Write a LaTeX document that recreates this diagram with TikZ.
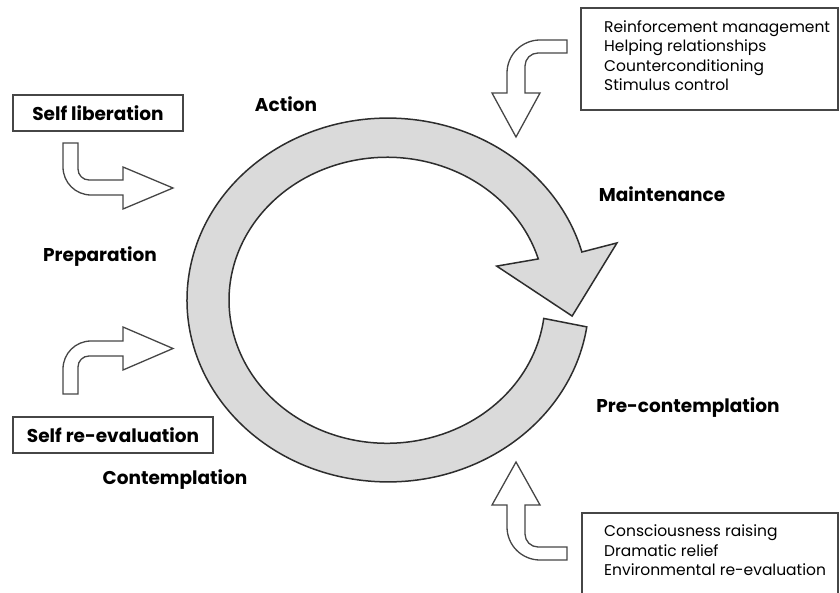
\documentclass[tikz,border=0pt]{standalone}
\usepackage{fontspec}
\setmainfont{Poppins}
\begin{document}
\begin{tikzpicture}[x=1pt,y=1pt,
  stagelabel/.style={font=\bfseries\fontsize{18.5}{22}\selectfont, text=black, inner sep=0pt},
  procbox/.style={draw=boxgray, line width=1.3pt, font=\bfseries\fontsize{18.5}{22}\selectfont, inner sep=0pt, minimum height=36pt},
  listtext/.style={font=\fontsize{15.5}{19.5}\selectfont, align=left, anchor=north west, inner sep=0pt},
  blockarrow/.style={draw=boxgray, fill=white, line width=1.3pt, line join=miter},
]
\definecolor{boxgray}{RGB}{70,70,70}
\definecolor{ringfill}{RGB}{218,218,218}
\definecolor{ringline}{RGB}{45,45,45}
\useasboundingbox (0,0) rectangle (840,-593);

% the cycle of change: a ring that ends in an arrowhead
\begin{scope}[shift={(388,-300)}, yscale=0.905]
  \draw[fill=ringfill, draw=ringline, line width=1.5pt, line join=miter]
    (-8.5:201) arc[start angle=-8.5, end angle=-344.7, radius=201]
    -- (-344.6:237.5) -- (-5.5:185) -- (-341:115) -- (-343.2:157)
    arc[start angle=16.8, end angle=352.7, radius=158] -- cycle;
\end{scope}

% stage names
\node[stagelabel] (action) at (286,-104) {Action};
\node[stagelabel] (maint) at (662,-194) {Maintenance};
\node[stagelabel] (prep) at (100,-257) {Preparation};
\node[stagelabel] (precon) at (688,-408) {Pre-contemplation};
\node[stagelabel] (contem) at (175,-480) {Contemplation};

% processes on the left
\node[procbox, minimum width=170pt] (selflib) at (98,-113) {Self liberation};
\node[procbox, minimum width=200pt] (selfre) at (113,-435) {Self re-evaluation};

% processes on the right
\draw[draw=boxgray, line width=1.3pt] (581,-8) rectangle (838,-110);
\node[listtext] (toplist) at (604,-20)
  {Reinforcement management\\Helping relationships\\Counterconditioning\\Stimulus control};
\draw[draw=boxgray, line width=1.3pt] (582,-596) -- (582,-513) -- (838,-513) -- (838,-596);
\node[listtext] (botlist) at (604,-525)
  {Consciousness raising\\Dramatic relief\\Environmental re-evaluation};

% block arrows
\draw[blockarrow] (63,-143) -- (78,-143) -- (78,-169)
  arc[start angle=180, end angle=270, radius=11] -- (123,-180) -- (123,-167)
  -- (173,-188) -- (123,-209) -- (123,-195) -- (91,-195)
  arc[start angle=270, end angle=180, radius=28] -- cycle;

\draw[blockarrow] (63,-394) -- (63,-369)
  arc[start angle=180, end angle=90, radius=28] -- (123,-341) -- (123,-327)
  -- (173,-348.5) -- (123,-370) -- (123,-356) -- (89,-356)
  arc[start angle=90, end angle=180, radius=11] -- (78,-394) -- cycle;

\draw[blockarrow] (567,-40) -- (540,-40)
  arc[start angle=90, end angle=180, radius=33] -- (507,-93) -- (492,-93)
  -- (516,-137) -- (540,-93) -- (525,-93) -- (525,-66)
  arc[start angle=180, end angle=90, radius=13] -- (567,-53) -- cycle;

\draw[blockarrow] (516,-462) -- (540,-505) -- (525,-505) -- (525,-534)
  arc[start angle=180, end angle=270, radius=13] -- (567,-547) -- (567,-560)
  -- (540,-560) arc[start angle=270, end angle=180, radius=33]
  -- (507,-505) -- (492,-505) -- cycle;
\end{tikzpicture}
\end{document}
